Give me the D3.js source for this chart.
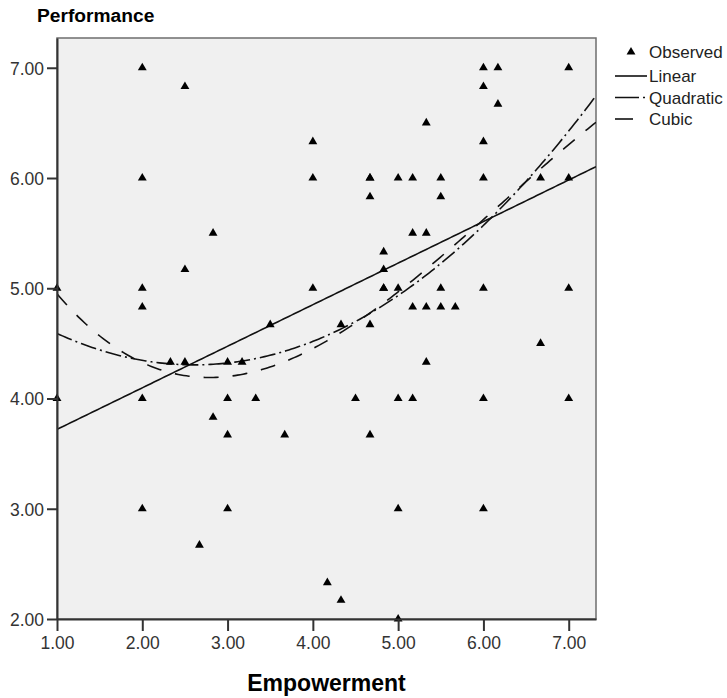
<!DOCTYPE html>
<html>
<head>
<meta charset="utf-8">
<script src="https://cdn.jsdelivr.net/npm/d3@7"></script>
<style>
  body { margin: 0; background: #fff; }
  svg { display: block; font-family: "Liberation Sans", Arial, sans-serif; }
</style>
</head>
<body>
<div class="chart"></div>
<script>
// observed cases (Empowerment, Performance)
const empowerment = [
  1, 1,
  2, 2, 2, 2, 2, 2,
  2.33, 2.5, 2.5, 2.5, 2.67, 2.83, 2.83,
  3, 3, 3, 3, 3.17, 3.33, 3.5, 3.67,
  4, 4, 4, 4.17, 4.33, 4.33, 4.5,
  4.67, 4.67, 4.67, 4.67, 4.67,
  4.83, 4.83, 4.83, 4.83,
  5, 5, 5, 5, 5, 5.17, 5.17, 5.17, 5.17,
  5.33, 5.33, 5.33, 5.33, 5.5, 5.5, 5.5, 5.5, 5.67,
  6, 6, 6, 6, 6, 6, 6, 6.17, 6.17,
  6.67, 6.67, 7, 7, 7, 7
];
const performance = [
  5, 4,
  7, 6, 5, 4.83, 4, 3,
  4.33, 6.83, 5.17, 4.33, 2.67, 5.5, 3.83,
  4.33, 4, 3.67, 3, 4.33, 4, 4.67, 3.67,
  6.33, 6, 5, 2.33, 4.67, 2.17, 4,
  6, 5.83, 4.67, 3.67, 6,
  5.33, 5.17, 5, 5,
  6, 5, 4, 3, 2, 6, 5.5, 4.83, 4,
  6.5, 5.5, 4.83, 4.33, 6, 5.83, 5, 4.83, 4.83,
  7, 6.83, 6.33, 6, 5, 4, 3, 7, 6.67,
  6, 4.5, 7, 6, 5, 4
];

// fitted curves, coefficients (c0 + c1*x + c2*x^2 + c3*x^3)
const linearCoef = [3.343, 0.377];
const quadraticCoef = [5.054, -0.574, 0.11];
const cubicCoef = [6.192, -1.590, 0.368, -0.0198];

const xTicks = [1, 2, 3, 4, 5, 6, 7];
const yTicks = [2, 3, 4, 5, 6, 7];
const legendLabels = ["Observed", "Linear", "Quadratic", "Cubic"];

const width = 727;
const height = 698;

const svg = d3.select(".chart")
  .append("svg")
    .attr("width", width)
    .attr("height", height);

const x = d3.scaleLinear().domain([1, 7.32]).range([57, 596]);
const y = d3.scaleLinear().domain([2, 7.27]).range([619, 38]);

// plot background
svg.append("rect")
  .attr("x", x.range()[0])
  .attr("y", y.range()[1])
  .attr("width", x.range()[1] - x.range()[0])
  .attr("height", y.range()[0] - y.range()[1])
  .style("fill", "#f0f0f0")
  .style("stroke", "#6e6e6e")
  .style("stroke-width", 1.5);

// fit lines
const poly = (c) => (v) => c.reduce((s, k, i) => s + k * Math.pow(v, i), 0);
const xs = d3.range(0, 201).map((i) => 1 + i * (7.32 - 1) / 200);

svg.append("clipPath")
    .attr("id", "plot-clip")
  .append("rect")
    .attr("x", 57).attr("y", 38)
    .attr("width", 539).attr("height", 581);

const fits = [
  { coef: linearCoef, dash: null },
  { coef: quadraticCoef, dash: "16,4,2,4" },
  { coef: cubicCoef, dash: "15,14" }
];

const line = d3.line()
  .x((d) => x(d[0]))
  .y((d) => y(d[1]));

svg.append("g")
    .attr("clip-path", "url(#plot-clip)")
  .selectAll("path")
    .data(fits).enter()
  .append("path")
    .attr("d", (d) => line(xs.map((v) => [v, poly(d.coef)(v)])))
    .style("fill", "none")
    .style("stroke", "#111")
    .style("stroke-width", 1.6)
    .style("stroke-dasharray", (d) => d.dash);

// observed points
const tri = d3.symbol().type(d3.symbolTriangle).size(34);
svg.append("g")
  .selectAll("path")
    .data(empowerment.map((e, i) => [e, performance[i]])).enter()
  .append("path")
    .attr("d", tri)
    .attr("transform", (d) => `translate(${x(d[0])}, ${y(d[1])})`)
    .style("fill", "#000");

// axes
const xAxis = svg.append("g")
  .attr("transform", `translate(0, ${y.range()[0]})`)
  .call(d3.axisBottom(x).tickValues(xTicks).tickFormat(d3.format(".2f")).tickSize(12).tickSizeOuter(0));

const yAxis = svg.append("g")
  .attr("transform", `translate(${x.range()[0]}, 0)`)
  .call(d3.axisLeft(y).tickValues(yTicks).tickFormat(d3.format(".2f")).tickSize(10).tickSizeOuter(0));

[xAxis, yAxis].forEach((a) => {
  a.select(".domain").style("stroke", "#333").style("stroke-width", 2);
  a.selectAll(".tick line").style("stroke", "#333").style("stroke-width", 2);
  a.selectAll(".tick text")
    .style("font-family", "Liberation Sans, Arial, sans-serif")
    .style("font-size", "17.5px")
    .style("fill", "#333");
});
xAxis.selectAll(".tick text").attr("dy", "1.05em").attr("y", 12);
yAxis.selectAll(".tick text").attr("x", -13).attr("dy", "0.36em");

// titles
svg.append("text")
  .attr("x", 37).attr("y", 22)
  .style("font-size", "19.2px")
  .style("font-weight", "bold")
  .text("Performance");

svg.append("text")
  .attr("x", (x.range()[0] + x.range()[1]) / 2).attr("y", 691)
  .attr("text-anchor", "middle")
  .style("font-size", "23px")
  .style("font-weight", "bold")
  .text("Empowerment");

// legend
const legend = svg.append("g").attr("class", "legend");
const legendY = [52, 76, 97.5, 119];
const legendDash = [null, null, "24,4,2,20", "18,30"];

legendLabels.forEach((label, i) => {
  if (i === 0) {
    legend.append("path")
      .attr("d", tri)
      .attr("transform", `translate(631, ${legendY[i]})`)
      .style("fill", "#000");
  } else {
    legend.append("line")
      .attr("x1", 615).attr("x2", 647)
      .attr("y1", legendY[i]).attr("y2", legendY[i])
      .style("stroke", "#111")
      .style("stroke-width", 1.6)
      .style("stroke-dasharray", legendDash[i]);
  }
  legend.append("text")
    .attr("x", 649).attr("y", legendY[i])
    .attr("dy", "0.36em")
    .style("font-size", "17px")
    .style("fill", "#222")
    .text(label);
});
</script>
</body>
</html>
